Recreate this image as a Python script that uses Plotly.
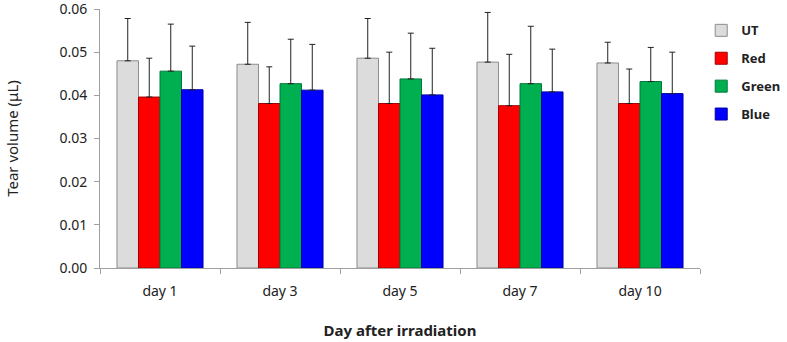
import plotly.graph_objects as go

days = ["day 1", "day 3", "day 5", "day 7", "day 10"]
series_names = ["UT", "Red", "Green", "Blue"]
ut_mean = [0.0480, 0.0472, 0.0486, 0.0477, 0.0475]
ut_err = [0.0098, 0.0097, 0.0092, 0.0115, 0.0048]
red_mean = [0.0396, 0.0381, 0.0381, 0.0376, 0.0381]
red_err = [0.0090, 0.0085, 0.0119, 0.0119, 0.0080]
green_mean = [0.0456, 0.0427, 0.0438, 0.0427, 0.0432]
green_err = [0.0109, 0.0103, 0.0106, 0.0133, 0.0079]
blue_mean = [0.0413, 0.0412, 0.0401, 0.0408, 0.0404]
blue_err = [0.0101, 0.0106, 0.0108, 0.0099, 0.0096]
y_ticks = [0.0, 0.01, 0.02, 0.03, 0.04, 0.05, 0.06]
y_tick_labels = ["0.00", "0.01", "0.02", "0.03", "0.04", "0.05", "0.06"]

means = [ut_mean, red_mean, green_mean, blue_mean]
errs = [ut_err, red_err, green_err, blue_err]
fills = ["#dcdcdc", "#ff0000", "#00b050", "#0000ff"]
edges = ["#8c8c8c", "#a00000", "#007a38", "#0000a0"]

fig = go.Figure()
for i, name in enumerate(series_names):
    fig.add_trace(go.Bar(
        x=days, y=means[i], name="<b>" + name + "</b>",
        legendgroup=name,
        marker=dict(color=fills[i], line=dict(color=edges[i], width=1)),
        error_y=dict(type="data", array=errs[i], symmetric=False,
                     arrayminus=[0] * len(days), color="#222222",
                     thickness=1, width=3),
    ))

fig.update_layout(
    width=787, height=342,
    margin=dict(l=100, r=87, t=9, b=74, autoexpand=False),
    paper_bgcolor="white", plot_bgcolor="white",
    barmode="group", bargap=0.283, bargroupgap=0,
    font=dict(family="Noto Sans, DejaVu Sans, sans-serif", size=14, color="#222222"),
    legend=dict(xref="container", yref="container", x=0.891, y=0.955,
                xanchor="left", yanchor="top",
                font=dict(size=13, color="#222222"),
                traceorder="grouped", tracegroupgap=8,
                itemwidth=30, bgcolor="rgba(0,0,0,0)"),
    xaxis=dict(showline=True, linecolor="#a0a0a0", linewidth=1,
               ticks="outside", tickson="boundaries", ticklen=5,
               tickcolor="#a0a0a0", showgrid=False,
               tickfont=dict(size=14), automargin=False, ticklabelstandoff=10,
               title=dict(text="<b>Day after irradiation</b>", font=dict(size=15),
                          standoff=26)),
    yaxis=dict(range=[0, 0.06], tickvals=y_ticks, ticktext=y_tick_labels,
               showline=True, linecolor="#a0a0a0", linewidth=1,
               ticks="outside", ticklen=5, tickcolor="#a0a0a0",
               showgrid=False, zeroline=False, automargin=False,
               ticklabeloverflow="allow", ticklabelstandoff=4,
               tickfont=dict(size=14),
               title=dict(text="Tear volume (μL)", font=dict(size=15), standoff=37)),
)

fig.write_html("out.html", post_script="document.body.style.margin='0';",
               config={"displayModeBar": False})
